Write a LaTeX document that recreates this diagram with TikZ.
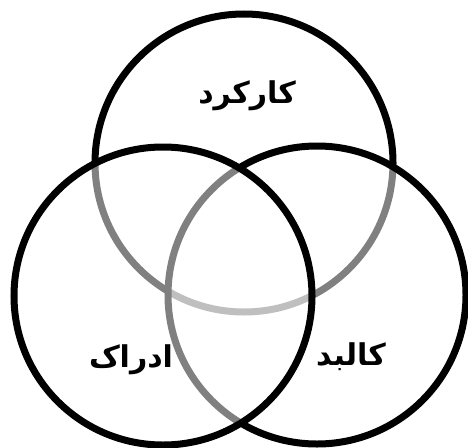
\documentclass[tikz,border=0pt]{standalone}
\usepackage{fontspec}
\TeXXeTstate=1
\newfontfamily\arabicfont[Script=Arabic]{DejaVu Sans}
\begin{document}
\begin{tikzpicture}[x=1pt,y=-1pt,
  ring/.style={circle, draw=black, line width=7pt, minimum size=298pt, inner sep=0pt},
  veil/.style={fill=white, fill opacity=0.5},
  lbl/.style={font=\arabicfont\bfseries\fontsize{30}{34}\selectfont, inner sep=0pt}]
\useasboundingbox (0,0) rectangle (468,447);
\node[ring] (top) at (244,163) {};
\node[ring, veil] (right) at (317,295) {};
\node[ring, veil] (left) at (163,296) {};
\node[lbl] (karkard) at (247,96) {\beginR کارکرد\endR};
\node[lbl] (edrak) at (131,360) {\beginR ادراک\endR};
\node[lbl] (kalbad) at (351,357) {\beginR کالبد\endR};
\end{tikzpicture}
\end{document}
